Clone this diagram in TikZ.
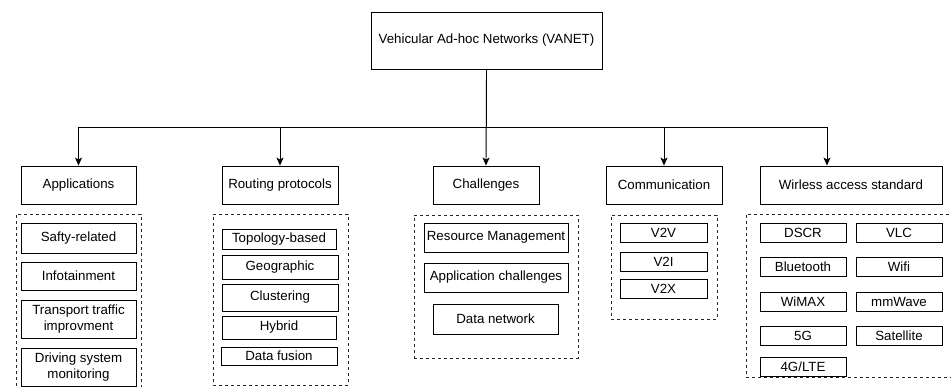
\documentclass[tikz,border=0pt]{standalone}
\usepackage{fontspec}
\setmainfont{Liberation Sans}
\usetikzlibrary{arrows.meta,calc}

% a rectangle node given by its corners: name, x1, y1, x2, y2, text
\newcommand\rbox[7][]{%
  \node[box,#1,minimum width={#5-#3},minimum height={#6-#4}]
    (#2) at ({(#3+#5)/2},{(#4+#6)/2}) {#7};}

\begin{document}
\begin{tikzpicture}[x=1pt,y=-1pt,
  box/.style={draw=black,line width=0.9pt,inner sep=0pt,align=center,
    font=\fontsize{13.3}{16}\selectfont,text=black},
  group/.style={dash pattern=on 3pt off 3pt,line width=0.9pt,draw=black!85},
  arr/.style={line width=0.9pt,-{Stealth[length=8pt,width=7pt,inset=2pt]}}]

\useasboundingbox (0,0) rectangle (951,387);
\clip (0,0) rectangle (951,387);

% root
\rbox{root}{371}{12}{602}{69}{Vehicular Ad-hoc Networks (VANET)}

% categories
\rbox{app}{21}{166}{136}{204}{Applications}
\rbox{rout}{222}{166}{338}{204}{Routing protocols}
\rbox{chal}{433}{166}{539}{204}{Challenges}
\rbox{comm}{606}{166}{722}{204}{Communication}
\rbox{wire}{760}{166}{942}{204}{Wirless access standard}

% dashed groups
\rbox[group]{appgrp}{16}{214}{141}{395}{}
\rbox[group]{routgrp}{213}{214}{348}{385}{}
\rbox[group]{chalgrp}{414}{215}{578}{358}{}
\rbox[group]{commgrp}{611}{215}{717}{319}{}
\rbox[group]{wiregrp}{746}{214}{958}{377}{}

% applications
\rbox{saf}{21}{223}{136}{253}{Safty-related}
\rbox{info}{21}{262}{136}{290}{Infotainment}
\rbox{trans}{21}{300}{136}{338}{Transport traffic\\improvment}
\rbox{drive}{21}{348}{136}{386}{Driving system\\monitoring}

% routing protocols
\rbox{topo}{222}{229}{336}{249}{Topology-based}
\rbox{geo}{222}{255}{338}{279}{Geographic}
\rbox{clus}{222}{284}{338}{311}{Clustering}
\rbox{hyb}{222}{316}{336}{339}{Hybrid}
\rbox{fus}{221}{347}{337}{365}{Data fusion}

% challenges
\rbox{res}{424}{223}{568}{252}{Resource Management}
\rbox{appch}{424}{263}{568}{292}{Application challenges}
\rbox{dnet}{433}{304}{558}{334}{Data network}

% communication
\rbox{vv}{620}{223}{707}{242}{V2V}
\rbox{vi}{620}{252}{707}{271}{V2I}
\rbox{vx}{620}{279}{707}{298}{V2X}

% wireless access standards
\rbox{dscr}{760}{223}{846}{242}{DSCR}
\rbox{vlc}{856}{223}{942}{242}{VLC}
\rbox{blue}{760}{257}{846}{276}{Bluetooth}
\rbox{wifi}{856}{257}{942}{276}{Wifi}
\rbox{wimax}{760}{292}{846}{311}{WiMAX}
\rbox{mmw}{856}{292}{942}{311}{mmWave}
\rbox{fiveg}{760}{326}{846}{345}{5G}
\rbox{sat}{856}{326}{942}{345}{Satellite}
\rbox{lte}{760}{357}{846}{376}{4G/LTE}

% connectors
\path (root.south) ++(0,58) coordinate (bus);
\draw[arr] (root.south) -- (bus) -| (app.north);
\draw[arr] (root.south) -- (bus) -| (rout.north);
\draw[arr] (root.south) -- (chal.north);
\draw[arr] (root.south) -- (bus) -| (comm.north);
\draw[arr] (root.south) -- (bus) -| ([xshift=-24pt]wire.north);
\end{tikzpicture}
\end{document}
